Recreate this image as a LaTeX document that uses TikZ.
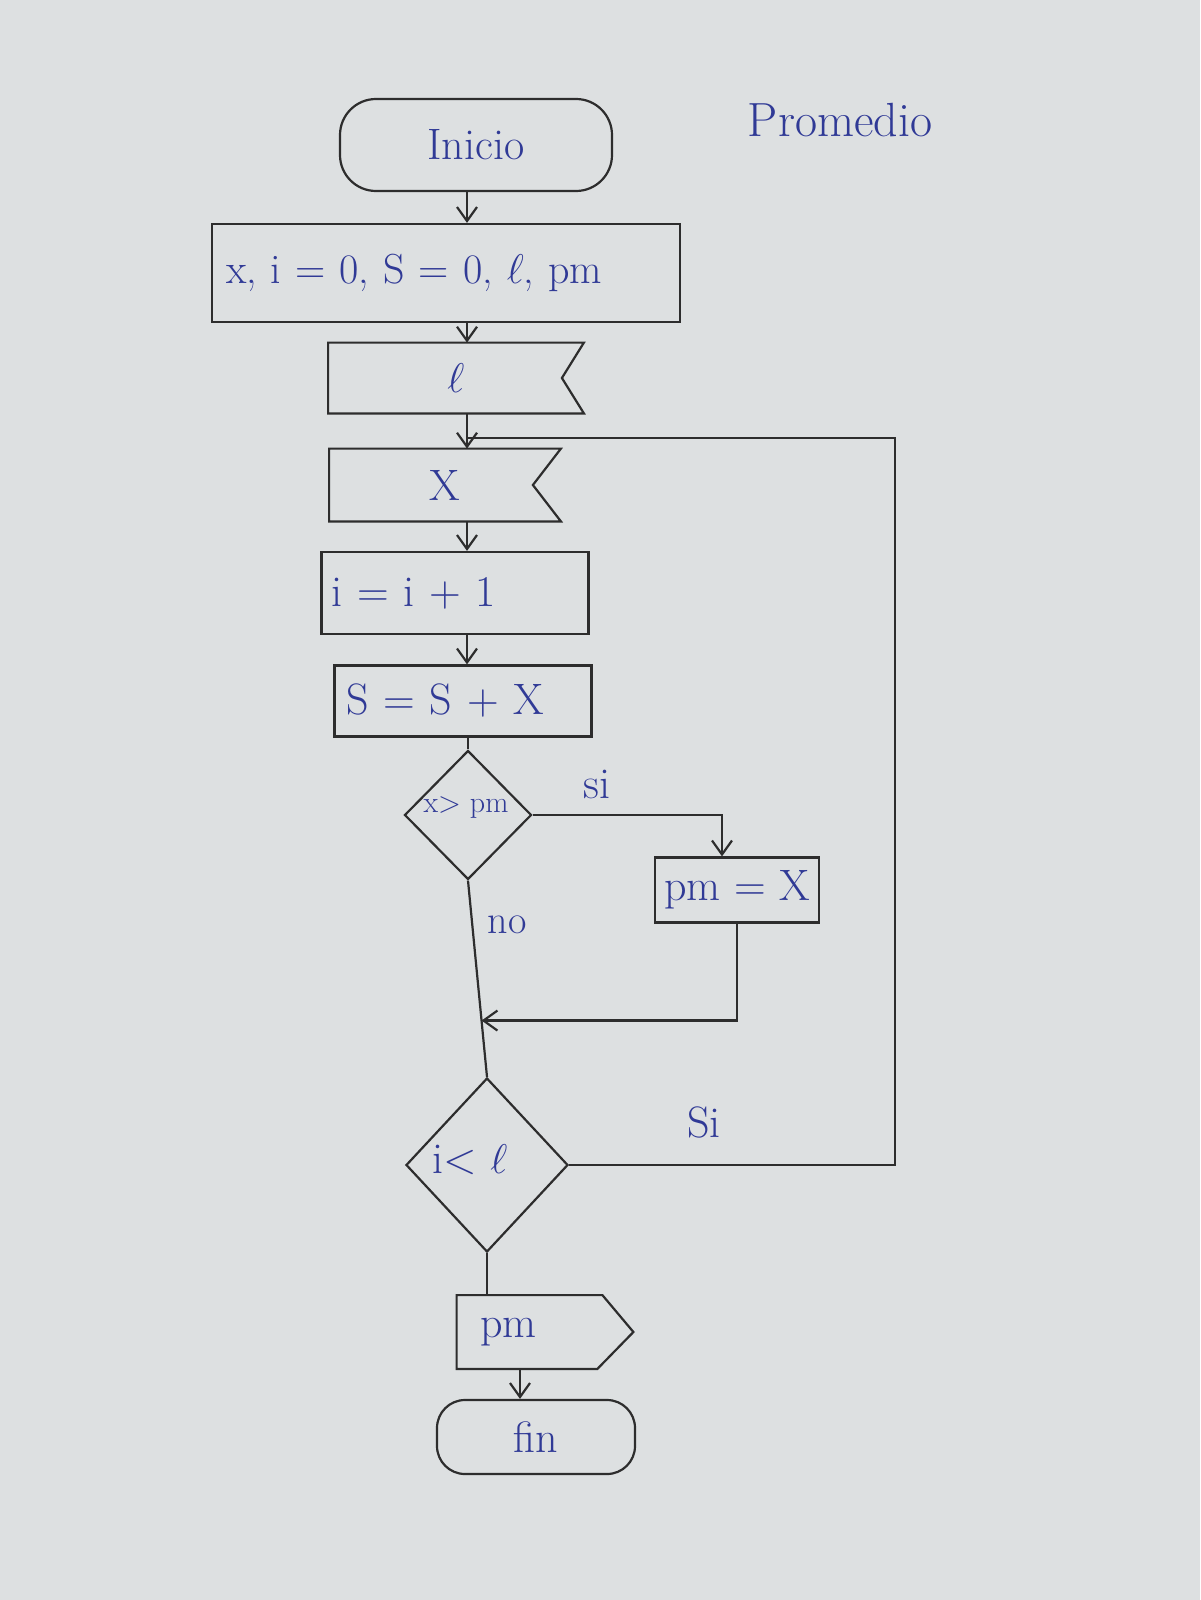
\documentclass[tikz,border=0pt]{standalone}
\usepackage{fontspec}
\usetikzlibrary{shapes.geometric,arrows.meta,calc}
\definecolor{ink}{RGB}{48,58,150}
\definecolor{linec}{RGB}{45,45,45}
\definecolor{paper}{RGB}{221,224,225}
\tikzset{
  shp/.style={draw=linec, line width=1.1pt},
  txt/.style={text=ink, font=\fontsize{22}{26}\selectfont},
  term/.style={shp, txt, rectangle, inner sep=0pt},
  proc/.style={shp, txt, rectangle, inner sep=0pt},
  inbox/.style={txt, rectangle, inner sep=0pt},
  dia/.style={shp, diamond, inner sep=0pt},
  lbl/.style={txt},
  conn/.style={draw=linec, line width=1.1pt},
  arr/.style={conn, -{Straight Barb[length=7pt,width=10pt]}},
}
\begin{document}
\begin{tikzpicture}[x=0.5pt,y=-0.5pt]
\fill[paper] (0,0) rectangle (1200,1600);
\useasboundingbox (0,0) rectangle (1200,1600);

\coordinate (j) at (467,438);
\coordinate (c1) at (722,0);
\coordinate (lp) at (895,0);

\node[txt, font=\fontsize{24}{28}\selectfont] (title) at (840,120) {Promedio};

\node[term, rounded corners=18pt, minimum width=136pt, minimum height=46pt] (ini) at (476,145) {Inicio};

\node[proc, minimum height=49pt, text width=220pt, inner xsep=7pt, align=left,
      font=\fontsize{21}{25}\selectfont] (decl) at (446,273) {x, i = 0, S = 0, $\ell$, pm};

\node[inbox, minimum width=127.5pt, minimum height=35pt] (rl) at (456,378) {$\ell$};
\draw[shp] (rl.north west) -- (rl.north east) -- ([xshift=-11pt]rl.east) -- (rl.south east) -- (rl.south west) -- cycle;

\node[inbox, minimum width=115.5pt, minimum height=36pt] (xin) at (445,485) {X};
\draw[shp] (xin.north west) -- (xin.north east) -- ([xshift=-14pt]xin.east) -- (xin.south east) -- (xin.south west) -- cycle;

\node[proc, minimum height=41pt, text width=123.5pt, inner xsep=5pt, align=left] (inc) at (455,593) {i = i + 1};
\node[proc, minimum height=35.5pt, text width=116.5pt, inner xsep=6pt, align=left] (sum) at (463,701) {S = S + X};

\node[dia, minimum width=63.5pt, minimum height=64.5pt] (d1) at (468,815) {};
\node[txt, font=\fontsize{15}{18}\selectfont] (d1t) at (466,808) {x> pm};
\node[lbl] (si1) at (597,784) {si};

\node[proc, minimum width=82pt, minimum height=32.5pt] (pmx) at (737,890) {pm = X};
\node[lbl, font=\fontsize{20}{24}\selectfont] (no1) at (507,925) {no};

\node[dia, minimum width=81pt, minimum height=87pt] (d2) at (487,1165) {};
\node[txt] (d2t) at (470,1160) {i< $\ell$};
\node[lbl] (si2) at (704,1122) {Si};

\coordinate (m) at ($(d1.south)!0.713!(d2.north)$);

\node[inbox, minimum width=88pt, minimum height=36.5pt, text width=65pt, inner xsep=11.5pt, align=left] (outp) at (545,1332) {pm};
\draw[shp] (outp.north west) -- ([xshift=-15.5pt]outp.north east) -- (outp.east) -- ([xshift=-18pt]outp.south east) -- (outp.south west) -- cycle;

\node[term, rounded corners=14pt, minimum width=99pt, minimum height=37pt] (fin) at (536,1437) {fin};

% connectors
\draw[arr] (ini.south -| j) -- (decl.north -| j);
\draw[arr] (decl.south -| j) -- (rl.north -| j);
\draw[arr] (rl.south -| j) -- (xin.north -| j);
\draw[arr] (xin.south -| j) -- (inc.north -| j);
\draw[arr] (inc.south -| j) -- (sum.north -| j);
\draw[conn] (sum.south -| d1.north) -- (d1.north);
\draw[arr] (d1.east) -| (c1 |- pmx.north);
\draw[conn] (d1.south) -- (d2.north);
\draw[arr] (pmx.south) |- (m);
\draw[conn] (d2.east) -| (lp |- j) -- (j);
\draw[conn] (d2.south) -- (d2.south |- outp.north);
\draw[arr] ([xshift=-12.5pt]outp.south) -- ([xshift=-8pt]fin.north);
\end{tikzpicture}
\end{document}
